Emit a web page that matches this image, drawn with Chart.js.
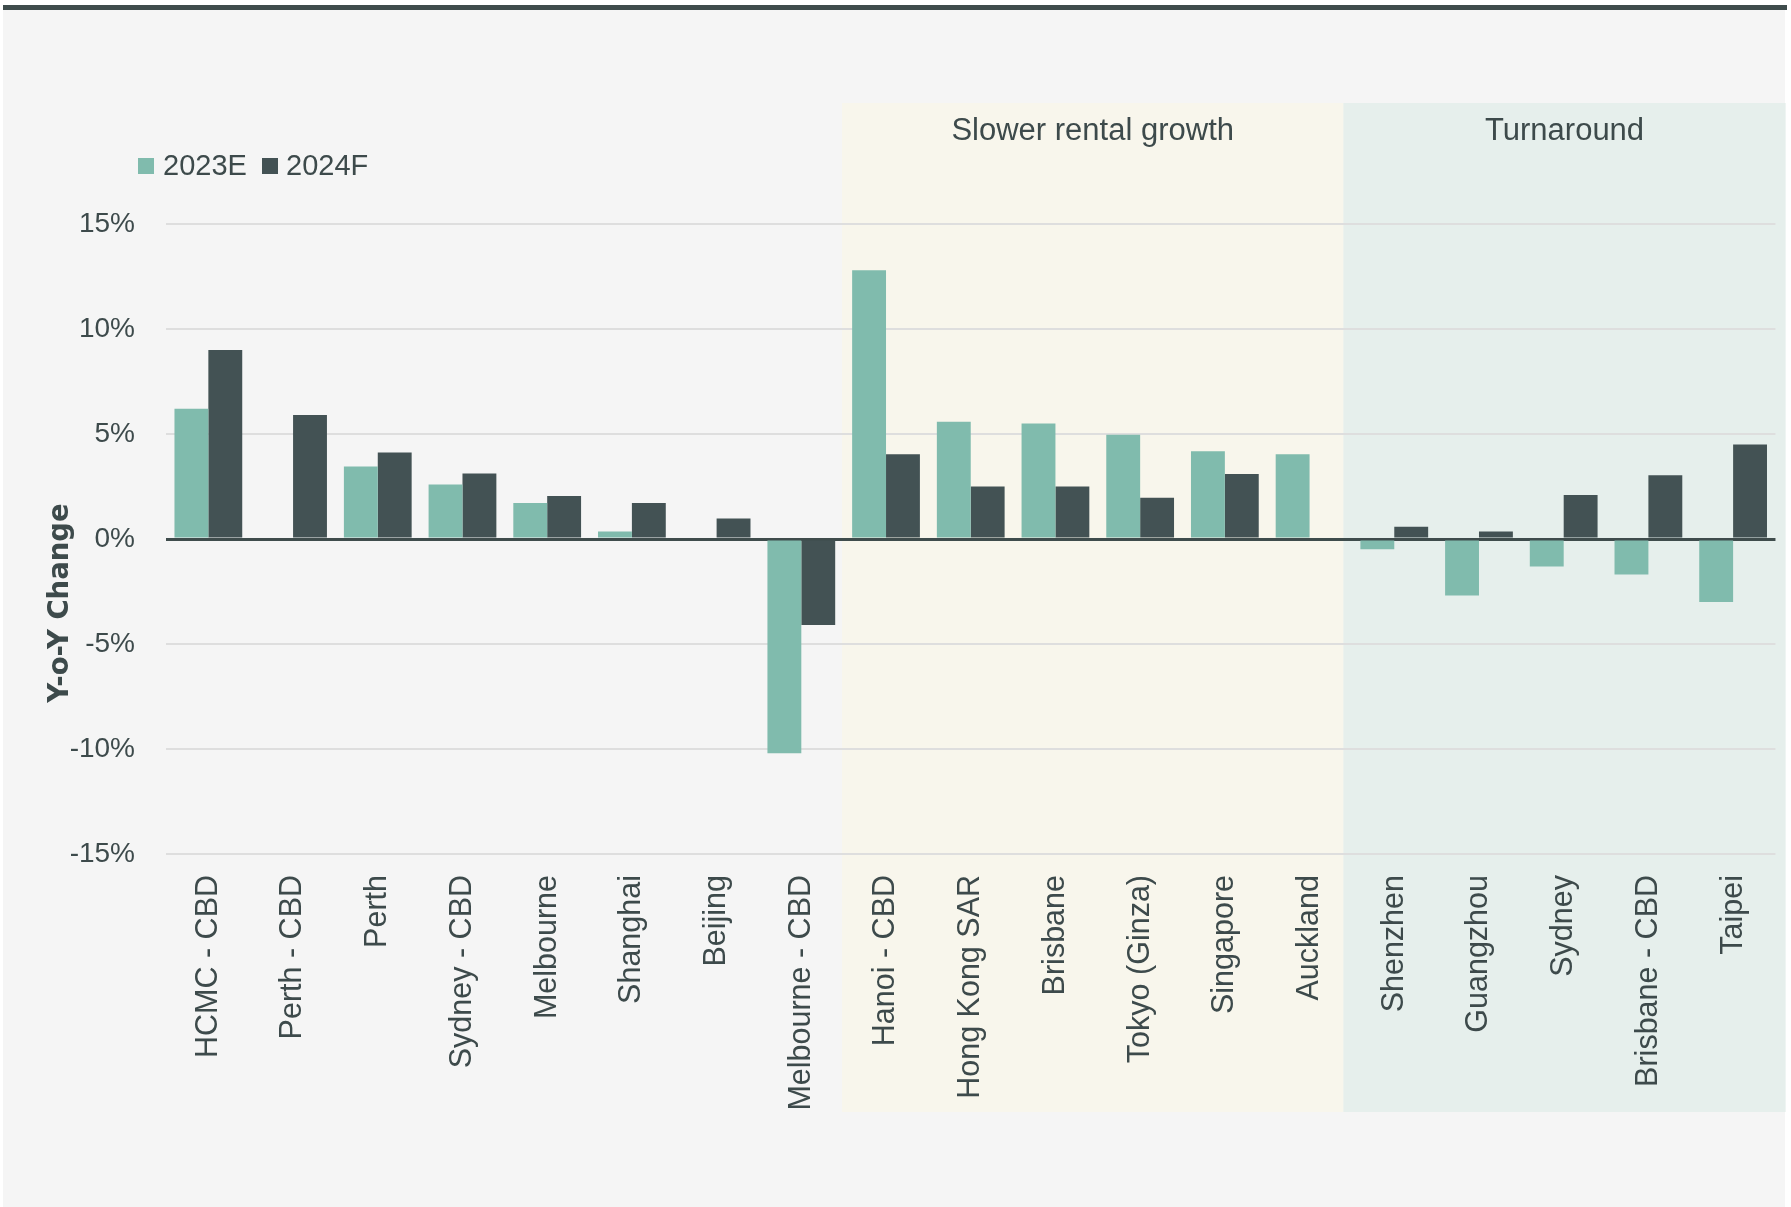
<!DOCTYPE html>
<html>
<head>
<meta charset="utf-8">
<script src="https://cdn.jsdelivr.net/npm/chart.js@4/dist/chart.umd.min.js"></script>
<style>
  html, body { margin: 0; padding: 0; background: #ffffff; }
  canvas { display: block; }
</style>
</head>
<body>
<canvas id="c" width="1791" height="1207"></canvas>
<script>
// ---- data ----
const categories = ['HCMC - CBD', 'Perth - CBD', 'Perth', 'Sydney - CBD', 'Melbourne', 'Shanghai', 'Beijing', 'Melbourne - CBD',
  'Hanoi - CBD', 'Hong Kong SAR', 'Brisbane', 'Tokyo (Ginza)', 'Singapore', 'Auckland',
  'Shenzhen', 'Guangzhou', 'Sydney', 'Brisbane - CBD', 'Taipei'];
const seriesNames = ['2023E', '2024F'];
const values2023E = [6.2, null, 3.45, 2.6, 1.72, 0.36, null, -10.2, 12.8, 5.58, 5.5, 4.96, 4.18, 4.03, -0.49, -2.69, -1.31, -1.69, -3.0];
const values2024F = [9.0, 5.9, 4.12, 3.12, 2.05, 1.72, 0.98, -4.1, 4.03, 2.5, 2.5, 1.96, 3.1, null, 0.58, 0.36, 2.1, 3.03, 4.5];
const yTicks = [-15, -10, -5, 0, 5, 10, 15];
const bandLabels = ['Slower rental growth', 'Turnaround'];
const bandFrom = [7.48, 13.4];
const bandTo = [13.4, 18.62];
const yAxisTitle = 'Y-o-Y Change';

// ---- styles ----
const teal = '#80bbad';
const dark = '#435254';
const textColor = '#3d4a4b';
const bandColors = ['#f8f6ec', '#e6efec'];
const FONT = '"Liberation Sans", Arial, sans-serif';

const decor = {
  id: 'decor',
  beforeDraw(chart) {
    const ctx = chart.ctx;
    const x = chart.scales.x;
    ctx.save();
    ctx.fillStyle = '#ffffff';
    ctx.fillRect(0, 0, chart.width, chart.height);
    ctx.fillStyle = '#f5f5f5';
    ctx.fillRect(3, 9, 1782, chart.height - 9);
    ctx.fillStyle = '#3f4c4c';
    ctx.fillRect(3, 5, 1784, 5);
    // bands
    for (let i = 0; i < bandLabels.length; i++) {
      const l = x.getPixelForValue(bandFrom[i]);
      const r = x.getPixelForValue(bandTo[i]);
      ctx.fillStyle = bandColors[i];
      ctx.fillRect(l, 103, r - l, 1112 - 103);
      ctx.fillStyle = textColor;
      ctx.font = '31px ' + FONT;
      ctx.textAlign = 'center';
      ctx.textBaseline = 'middle';
      ctx.fillText(bandLabels[i], (l + r) / 2, 131);
    }
    ctx.restore();
  },
  afterDraw(chart) {
    const ctx = chart.ctx;
    ctx.save();
    // legend
    const items = [[138, 163], [262, 286]];
    chart.data.datasets.forEach((ds, i) => {
      ctx.fillStyle = ds.backgroundColor;
      ctx.fillRect(items[i][0], 158, 16, 16);
      ctx.fillStyle = textColor;
      ctx.font = '29px ' + FONT;
      ctx.textAlign = 'left';
      ctx.textBaseline = 'middle';
      ctx.fillText(ds.label, items[i][1], 167);
    });
    // y axis title
    ctx.translate(61, 603);
    ctx.rotate(-Math.PI / 2);
    ctx.fillStyle = textColor;
    ctx.font = 'bold 27.5px "DejaVu Sans", sans-serif';
    ctx.textAlign = 'center';
    ctx.textBaseline = 'middle';
    ctx.fillText(yAxisTitle, 0, 0);
    ctx.restore();
  }
};

new Chart(document.getElementById('c'), {
  type: 'bar',
  data: {
    labels: categories,
    datasets: [
      { label: seriesNames[0], data: values2023E, backgroundColor: teal },
      { label: seriesNames[1], data: values2024F, backgroundColor: dark }
    ]
  },
  options: {
    responsive: false,
    devicePixelRatio: 1,
    animation: false,
    layout: { padding: { left: 0, right: 11, top: 224, bottom: 0 } },
    datasets: { bar: { categoryPercentage: 0.80, barPercentage: 1.0 } },
    plugins: { legend: { display: false }, tooltip: { enabled: false } },
    scales: {
      x: {
        grid: { display: false, drawTicks: false },
        border: { display: false },
        ticks: {
          color: textColor,
          font: { family: FONT, size: 30.5 },
          minRotation: 90, maxRotation: 90,
          padding: 21,
          autoSkip: false
        },
        afterFit(s) { s.height = 1207 - 854; }
      },
      y: {
        min: -15, max: 15,
        afterBuildTicks(s) { s.ticks = yTicks.map(v => ({ value: v })); },
        grid: {
          drawTicks: false,
          color: ctx => ctx.tick && ctx.tick.value === 0 ? '#3f4c4c' : '#dedede',
          lineWidth: ctx => ctx.tick && ctx.tick.value === 0 ? 3 : 2
        },
        border: { display: false },
        ticks: {
          color: textColor,
          font: { family: FONT, size: 28 },
          padding: 31,
          callback: v => v + '%'
        },
        afterFit(s) { s.width = 166; }
      }
    }
  },
  plugins: [decor]
});
</script>
</body>
</html>
